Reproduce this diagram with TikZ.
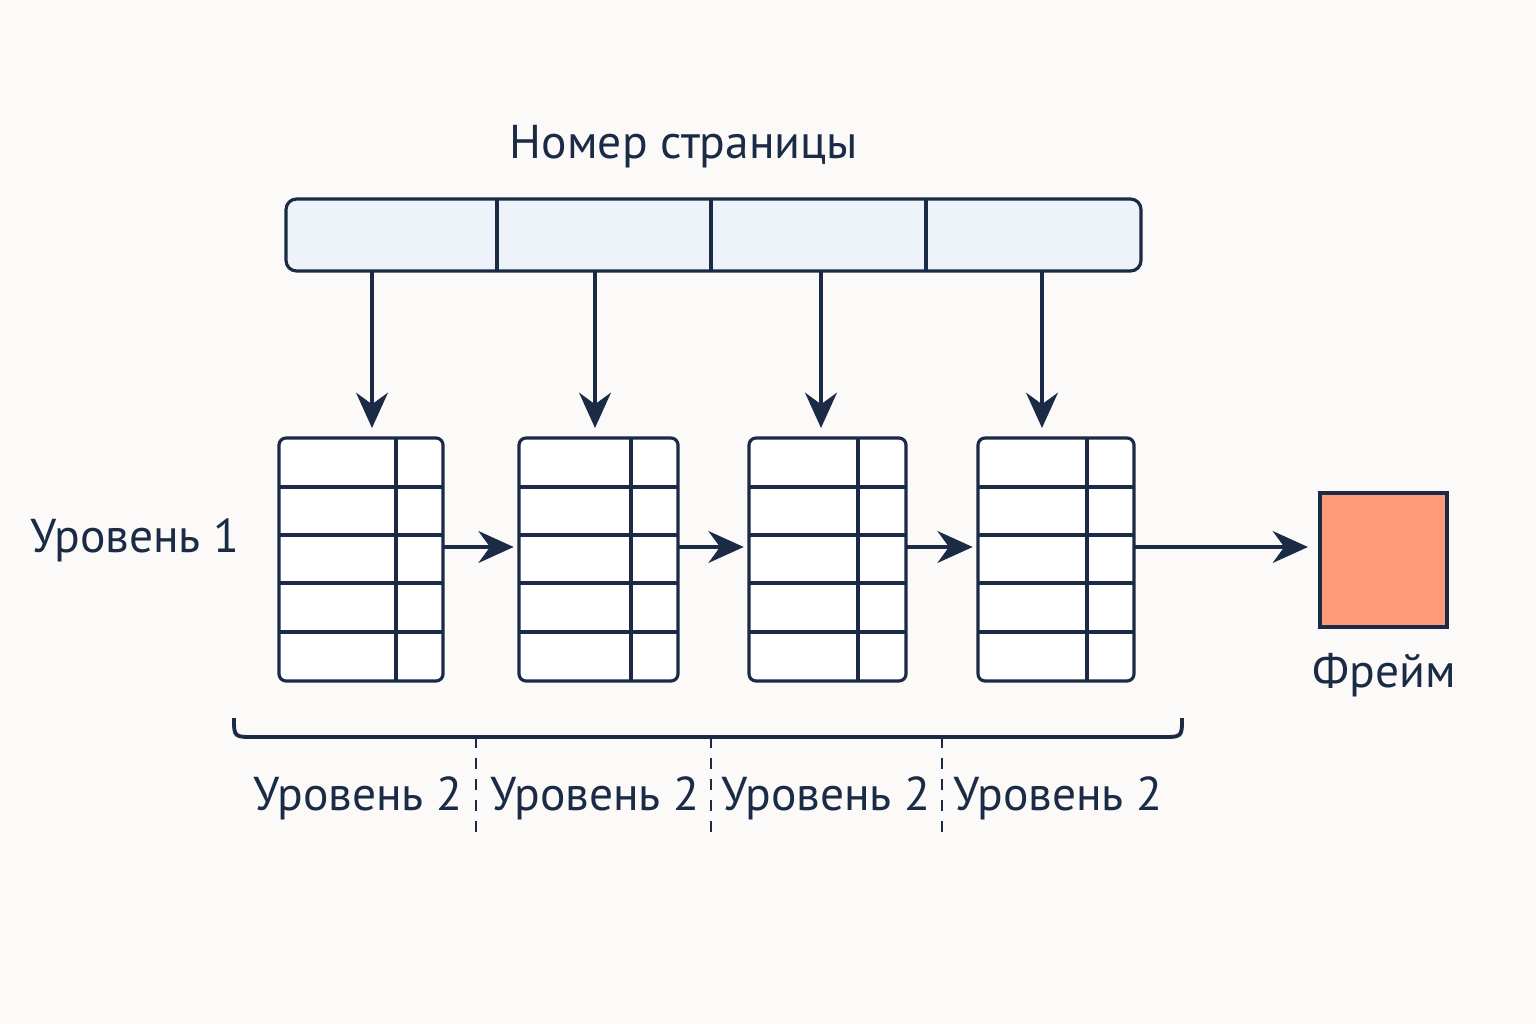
\documentclass[tikz,border=0pt]{standalone}
\usepackage{fontspec}
\setmainfont{PT Sans}
\usetikzlibrary{arrows.meta,positioning}
\definecolor{ink}{HTML}{1B2A45}
\definecolor{barfill}{HTML}{EEF3F9}
\definecolor{framefill}{HTML}{FF9B7B}
\definecolor{bg}{HTML}{FBFAF8}
\tikzset{
  link/.style={draw=ink, line width=1.3pt, -{Stealth[length=10pt,width=9pt]}},
  grid/.style={draw=ink, line width=0.9pt},
  lbl/.style={text=ink, font=\fontsize{13.5}{15}\selectfont},
}
\begin{document}
\begin{tikzpicture}[x=0.01cm,y=-0.01cm]
  \fill[bg] (0,0) rectangle (1536,1024);
  \useasboundingbox (0,0) rectangle (1536,1024);

  % page number bar
  \node[lbl] (title) at (684,147) {Номер страницы};
  \draw[grid, fill=barfill, rounded corners=3pt] (286,199) rectangle (1141,271);
  \foreach \x in {497,711,926}
    \draw[grid] (\x,199) -- (\x,271);

  % level-2 tables
  \foreach \l/\r/\c/\a [count=\i] in {279/443/396/372, 519/678/631/595, 749/906/858/821, 978/1134/1087/1042} {
    \draw[grid, fill=white, rounded corners=2pt] (\l,438) rectangle (\r,681);
    \foreach \y in {487,535,583,632}
      \draw[grid] (\l,\y) -- (\r,\y);
    \draw[grid] (\c,438) -- (\c,681);
    \coordinate (in\i) at (\a,271);
    \coordinate (top\i) at (\a,428);
    \draw[link] (in\i) -- (top\i);
    \coordinate (L\i) at (\l,547);
    \coordinate (R\i) at (\r,547);
  }
  \coordinate (F) at (1308,547);
  \draw[link] (R1) -- ([xshift=-1.5pt]L2);
  \draw[link] (R2) -- ([xshift=-1.5pt]L3);
  \draw[link] (R3) -- ([xshift=-1.5pt]L4);
  \draw[link] (R4) -- (F);

  % frame
  \draw[grid, fill=framefill] (1320,493) rectangle (1447,627);
  \node[lbl] (frame) at (1384,675) {Фрейм};
  \node[lbl] (lvl1) at (135,540) {Уровень 1};

  % brace and level-2 labels
  \draw[grid, line width=1.1pt] (234,718) .. controls (234,737) .. (254,737)
    -- (1162,737) .. controls (1182,737) .. (1182,718);
  \foreach \x in {476,711,942}
    \draw[grid, dashed, line width=0.7pt] (\x,737) -- (\x,840);
  \foreach \x [count=\i] in {358,595,826,1058}
    \node[lbl] (lvl2\i) at (\x,798) {Уровень 2};
\end{tikzpicture}
\end{document}
